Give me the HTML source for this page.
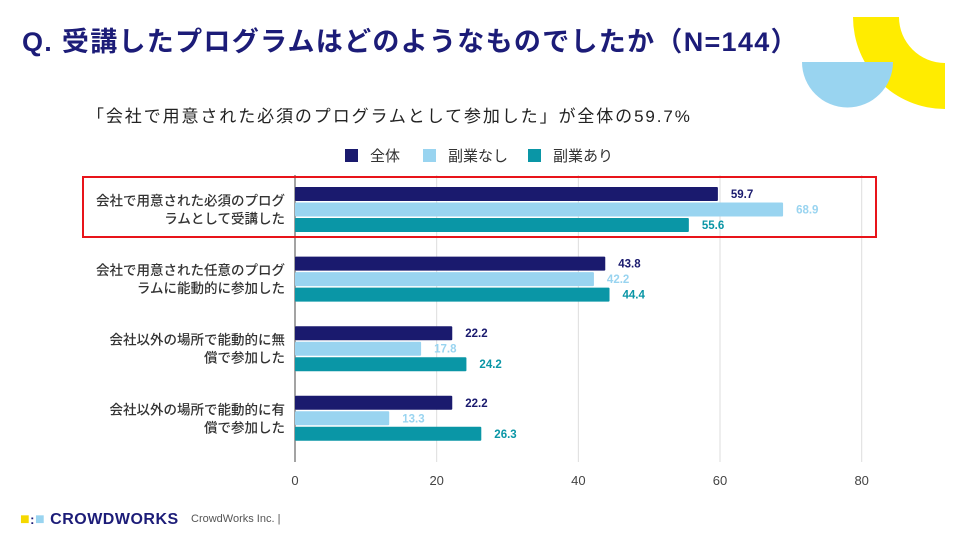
<!DOCTYPE html>
<html><head><meta charset="utf-8">
<style>
body{margin:0;width:960px;height:540px;overflow:hidden;background:#fff;font-family:"Liberation Sans","Noto Sans CJK JP",sans-serif;}
#root{position:relative;width:960px;height:540px;}
.abs{position:absolute;white-space:nowrap;}
</style></head><body>
<div id="root">
<svg class="abs" style="left:0;top:0" width="960" height="540">
  <path d="M945,17 L945,109 A92,92 0 0 1 853,17 L899,17 A46,46 0 0 0 945,63 Z" fill="#ffec00"/>
  <path d="M802,62 L893,62 A45.5,45.5 0 0 1 802,62 Z" fill="#99d4f0"/>
</svg>
<div class="abs" style="left:22px;top:26px;font-size:27px;font-weight:bold;color:#1c1c78;line-height:32px;letter-spacing:1.3px">Q. 受講したプログラムはどのようなものでしたか（N=144）</div>
<div class="abs" style="left:87px;top:106px;font-size:17px;color:#222;line-height:22px;letter-spacing:1.9px">「会社で用意された必須のプログラムとして参加した」が全体の59.7%</div>
<svg id="chart" class="abs" style="left:0;top:0" width="960" height="540"></svg>
<div class="abs" style="left:20px;top:511px;font-size:16px;font-weight:bold;color:#1c1c78;letter-spacing:0.5px"><span style="color:#f5d800">■</span><span style="color:#1c1c78;font-size:13px">:</span><span style="color:#99d4f0">■</span> CROWDWORKS</div>
<div class="abs" style="left:191px;top:513px;font-size:11px;color:#555">CrowdWorks Inc. |</div>
</div>
<script>
const categories=[["会社で用意された必須のプログ","ラムとして受講した"],["会社で用意された任意のプログ","ラムに能動的に参加した"],["会社以外の場所で能動的に無","償で参加した"],["会社以外の場所で能動的に有","償で参加した"]];
const seriesNames=["全体","副業なし","副業あり"];
const seriesAll=[59.7,43.8,22.2,22.2];
const seriesNo=[68.9,42.2,17.8,13.3];
const seriesYes=[55.6,44.4,24.2,26.3];
const ticks=[0,20,40,60,80];
const colors=["#1a1a6e","#99d4f0","#0a96a6"];
const series=[seriesAll,seriesNo,seriesYes];
const NS="http://www.w3.org/2000/svg";
const svg=document.getElementById('chart');
const x0=295,x1=861.7,xmax=80,plotTop=175,plotBottom=462;
const xs=v=>x0+(x1-x0)*v/xmax;
const groupC=i=>209.5+i*69.6;
function mk(t,a){const e=document.createElementNS(NS,t);for(const k in a)e.setAttribute(k,a[k]);svg.appendChild(e);return e;}
ticks.forEach((t,i)=>{
  const g=mk('line',{x1:xs(t),x2:xs(t),y1:plotTop,y2:plotBottom,stroke:t===0?'#666':'#ddd','stroke-width':t===0?1.2:1});
  
  
  const l=mk('text',{x:xs(t),y:485,'text-anchor':'middle','font-size':13,fill:'#444'});
  l.textContent=t;
  
  
});
categories.forEach((c,i)=>{
  const cy=groupC(i);
  c.forEach((line,j)=>{
    const t=mk('text',{x:285,y:cy-4+j*18,'text-anchor':'end','font-size':13.5,'font-weight':'500',fill:'#333'});
    t.textContent=line;
    
    
  });
  series.forEach((s,k)=>{
    const y=cy-22.5+k*15.5;
    const r=mk('rect',{x:x0,y:y,width:xs(s[i])-x0,height:14,fill:colors[k],rx:1});
    
    
    const v=mk('text',{x:xs(s[i])+13,y:y+11,'font-size':11.5,'font-weight':'bold',fill:k===1?'#99d4f0':(k===0?'#1a1a6e':'#0a96a6')});
    v.textContent=s[i].toFixed(1);
    
    
  });
});
const lx=[345,423,528];
seriesNames.forEach((n,k)=>{
  const r=mk('rect',{x:lx[k],y:149,width:13,height:13,fill:colors[k]});
  
  
  const t=mk('text',{x:lx[k]+25,y:161,'font-size':15,fill:'#333'});
  t.textContent=n;
  
  
});
const box=mk('rect',{x:83,y:177,width:793,height:60,fill:'none',stroke:'#e8141a','stroke-width':2});


</script>
</body></html>
